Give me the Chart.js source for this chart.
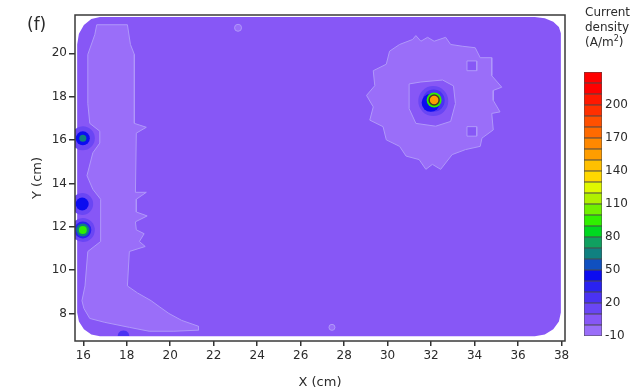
<!DOCTYPE html>
<html>
<head>
<meta charset="utf-8">
<script src="https://cdn.jsdelivr.net/npm/chart.js@4/dist/chart.umd.min.js"></script>
<style>
  body { margin: 0; background: #fff; }
  #wrap { position: relative; width: 633px; height: 390px; overflow: hidden; font-family: "DejaVu Sans", sans-serif; color: #2b2b2b; }
  #map { position: absolute; left: 0; top: 0; }
  #bar { position: absolute; left: 578px; top: 60px; }
  #panel { position: absolute; left: 27px; top: 14px; font-size: 17px; }
  #cbTitle { position: absolute; left: 585px; top: 5px; font-size: 12px; line-height: 15px; white-space: nowrap; }
  #cbTitle sup { font-size: 8px; line-height: 0; }
</style>
</head>
<body>
<div id="wrap">
  <canvas id="map" width="580" height="390"></canvas>
  <canvas id="bar" width="55" height="290"></canvas>
  <div id="panel">(f)</div>
  <div id="cbTitle">Current<br>density<br>(A/m<sup>2</sup>)</div>
</div>
<script>
// axis ticks
const xTicks = [16, 18, 20, 22, 24, 26, 28, 30, 32, 34, 36, 38];
const yTicks = [8, 10, 12, 14, 16, 18, 20];

// colour bar: band edges (A/m2) and colours
const bandEdges = [-10, 0, 10, 20, 30, 40, 50, 60, 70, 80, 90, 100, 110, 120, 130, 140, 150, 160, 170, 180, 190, 200, 210, 220, 230];
const bandColors = ["#9a6ef9", "#8757f6", "#6a46f4", "#4a32f2", "#2a22f0", "#0c0cf0", "#1050c0", "#108080",
  "#10a060", "#00d820", "#30f000", "#70f000", "#b0f000", "#e0f800", "#ffd800", "#ffc000",
  "#ff9d00", "#ff8800", "#ff6a00", "#ff5000", "#ff3000", "#ff1800", "#ff0000", "#ff0000"];
const cbTicks = [-10, 20, 50, 80, 110, 140, 170, 200];

// plate outline (cm), level 5
const plateX = [15.72, 15.72, 15.80, 16.03, 16.37, 16.77, 36.77, 37.23, 37.62, 37.88, 37.97, 37.97, 37.88, 37.62, 37.23, 36.77, 16.77, 16.37, 16.03, 15.80];
const plateY = [8.05, 20.41, 20.90, 21.31, 21.58, 21.68, 21.68, 21.62, 21.46, 21.22, 20.93, 8.05, 7.63, 7.27, 7.03, 6.95, 6.95, 7.03, 7.27, 7.63];
const plateLevel = 5;

// low band along the left edge, level -5
const leftX = [16.62, 18.03, 18.17, 18.35, 18.35, 18.90, 18.44, 18.40, 18.90, 18.44, 18.44, 18.94, 18.40, 18.44, 18.80, 18.58, 18.85, 18.12,
  18.03, 18.49, 19.12, 19.49, 19.94, 20.53, 21.30, 21.30, 20.17, 19.03, 18.12, 16.99, 16.30, 16.03, 15.94, 16.08, 16.21, 16.80,
  16.80, 16.44, 16.17, 16.44, 16.76, 16.76, 16.30, 16.21, 16.21, 16.53];
const leftY = [21.32, 21.32, 20.41, 19.95, 16.77, 16.59, 16.32, 13.59, 13.59, 13.27, 12.68, 12.50, 12.23, 11.86, 11.68, 11.32, 11.09, 10.86,
  9.27, 8.95, 8.59, 8.32, 8.00, 7.68, 7.41, 7.23, 7.18, 7.18, 7.36, 7.59, 7.77, 8.23, 8.59, 9.27, 10.86, 11.32,
  13.27, 13.73, 14.36, 15.41, 15.86, 16.41, 16.77, 17.68, 19.95, 20.86];
const leftLevel = -5;

// low band around the hot spot at (32, 18), level -5
const sunX = [30.55, 31.15, 31.30, 31.53, 31.84, 32.14, 32.67, 32.90, 33.43, 34.03, 34.26, 34.79, 34.79, 35.25, 34.86, 34.86, 35.17, 34.79,
  34.86, 34.34, 34.26, 33.58, 32.97, 32.44, 32.06, 31.76, 31.45, 30.85, 30.55, 29.94, 29.79, 29.18, 29.34, 29.03, 29.41, 29.34, 29.94, 30.09];
const sunY = [20.41, 20.64, 20.82, 20.56, 20.74, 20.56, 20.74, 20.41, 20.33, 20.26, 19.80, 19.80, 18.97, 18.44, 18.29, 17.83, 17.30, 17.23,
  16.47, 16.09, 15.71, 15.56, 15.33, 14.65, 14.88, 14.65, 15.10, 15.26, 15.71, 16.01, 16.62, 16.92, 17.53, 18.06, 18.51, 19.20, 19.50, 20.10];
const sunLevel = -5;

// inner part of that band, level 5
const coreX = [30.99, 31.53, 32.53, 33.03, 33.12, 32.90, 32.21, 31.30, 30.99];
const coreY = [18.59, 18.68, 18.77, 18.50, 17.68, 16.86, 16.64, 16.77, 17.45];
const notchAX = [33.65, 34.10, 34.10, 33.65];
const notchAY = [19.65, 19.65, 19.20, 19.20];
const notchBX = [33.65, 34.10, 34.10, 33.65];
const notchBY = [16.62, 16.62, 16.18, 16.18];
const innerLevel = 5;

// small spot on the lower edge near x = 18, level 25
const edgeX = [17.58, 17.62, 17.72, 17.85, 17.98, 18.08, 18.12];
const edgeY = [6.96, 7.10, 7.19, 7.22, 7.19, 7.10, 6.96];
const edgeLevel = 25;

// hot spots: centre (cm) and level (A/m2), outer rings first
const spotX = [32.10, 32.12, 31.98, 32.14, 32.14, 15.98, 15.98, 15.98, 15.95, 15.95, 15.98, 15.98, 15.98, 15.98, 23.12, 27.44];
const spotY = [17.80, 17.82, 17.72, 17.85, 17.85, 16.08, 16.08, 16.08, 13.05, 13.05, 11.85, 11.85, 11.85, 11.85, 21.18, 7.36];
const spotLevel = [15, 25, 45, 95, 155, 15, 45, 65, 15, 45, 15, 35, 65, 95, -5, -5];
const spotRadius = [15, 11, 9, 7.5, 5, 12, 7, 3.5, 11, 6.5, 12, 8.5, 6.5, 4, 3.5, 3];

const ink = "#2b2b2b";
const contour = "#b098fa";
const font = { family: "DejaVu Sans", size: 12 };

function levelColor(v) {
  const i = bandEdges.findIndex((e, k) => v >= e && v < bandEdges[k + 1]);
  return bandColors[i];
}

function points(xs, ys) {
  const p = xs.map((x, i) => ({ x, y: ys[i] }));
  p.push(p[0]);
  return p;
}

function region(xs, ys, level, line, order) {
  return {
    data: points(xs, ys),
    showLine: true,
    fill: "shape",
    backgroundColor: levelColor(level),
    borderColor: line ? contour : "rgba(0,0,0,0)",
    borderWidth: 1,
    pointRadius: 0,
    tension: 0,
    order,
  };
}

const frame = {
  id: "frame",
  afterDatasetsDraw(chart) {
    const { ctx, chartArea: a } = chart;
    ctx.save();
    ctx.strokeStyle = "#3a3a3a";
    ctx.lineWidth = 1.5;
    ctx.strokeRect(a.left, a.top, a.right - a.left, a.bottom - a.top);
    ctx.restore();
  },
};

new Chart(document.getElementById("map"), {
  type: "scatter",
  data: {
    datasets: [
      region(plateX, plateY, plateLevel, false, 5),
      region(leftX, leftY, leftLevel, true, 4),
      region(sunX, sunY, sunLevel, true, 4),
      region(coreX, coreY, innerLevel, true, 3),
      region(notchAX, notchAY, innerLevel, true, 3),
      region(notchBX, notchBY, innerLevel, true, 3),
      region(edgeX, edgeY, edgeLevel, false, 3),
      {
        data: spotX.map((x, i) => ({ x, y: spotY[i] })),
        pointRadius: spotRadius,
        pointBackgroundColor: spotLevel.map(levelColor),
        pointBorderColor: spotLevel.map((v) => (v > 100 ? "#4a3a22" : contour)),
        pointBorderWidth: spotLevel.map((v) => (v > 100 ? 1.5 : v < 0 ? 1 : 0)),
        order: 1,
      },
    ],
  },
  options: {
    responsive: false,
    animation: false,
    events: [],
    layout: { padding: { left: 0, top: 10, right: 7, bottom: 0 } },
    plugins: { legend: { display: false }, tooltip: { enabled: false } },
    scales: {
      x: {
        type: "linear",
        min: 15.62,
        max: 38.16,
        afterBuildTicks: (s) => { s.ticks = xTicks.map((v) => ({ value: v })); },
        afterFit: (s) => { s.height = 49; },
        grid: { drawOnChartArea: false, tickLength: 5, color: "#333", lineWidth: 1.5 },
        border: { display: false },
        ticks: { color: ink, font, padding: 3, maxRotation: 0, autoSkip: false },
        title: { display: true, text: "X (cm)", color: ink, font: { family: "DejaVu Sans", size: 13 }, padding: { top: 0, bottom: 0 } },
      },
      y: {
        type: "linear",
        min: 6.73,
        max: 21.77,
        afterBuildTicks: (s) => { s.ticks = yTicks.map((v) => ({ value: v })); },
        afterFit: (s) => { s.width = 75; },
        grid: { drawOnChartArea: false, tickLength: 6, color: "#333", lineWidth: 1.5 },
        border: { display: false },
        ticks: { color: ink, font, padding: 2, autoSkip: false },
        title: { display: true, text: "Y (cm)", color: ink, font: { family: "DejaVu Sans", size: 13 }, padding: { top: 30, bottom: 0 } },
      },
    },
  },
  plugins: [frame],
});

new Chart(document.getElementById("bar"), {
  type: "bar",
  data: {
    labels: [""],
    datasets: bandColors.map((c, i) => ({
      data: [[bandEdges[i], bandEdges[i + 1]]],
      backgroundColor: c,
      borderColor: "#4a4a4a",
      borderWidth: 0.8,
      borderSkipped: false,
      grouped: false,
      barPercentage: 1,
      categoryPercentage: 1,
    })),
  },
  options: {
    responsive: false,
    animation: false,
    events: [],
    layout: { padding: { left: 6, top: 12, right: 0, bottom: 14 } },
    plugins: { legend: { display: false }, tooltip: { enabled: false } },
    scales: {
      x: { display: false },
      y: {
        position: "right",
        min: -10,
        max: 230,
        afterBuildTicks: (s) => { s.ticks = cbTicks.map((v) => ({ value: v })); },
        afterFit: (s) => { s.width = 31; },
        grid: { display: false, drawTicks: false },
        border: { display: false },
        ticks: { color: ink, font, padding: 3, autoSkip: false },
      },
    },
  },
});
</script>
</body>
</html>
